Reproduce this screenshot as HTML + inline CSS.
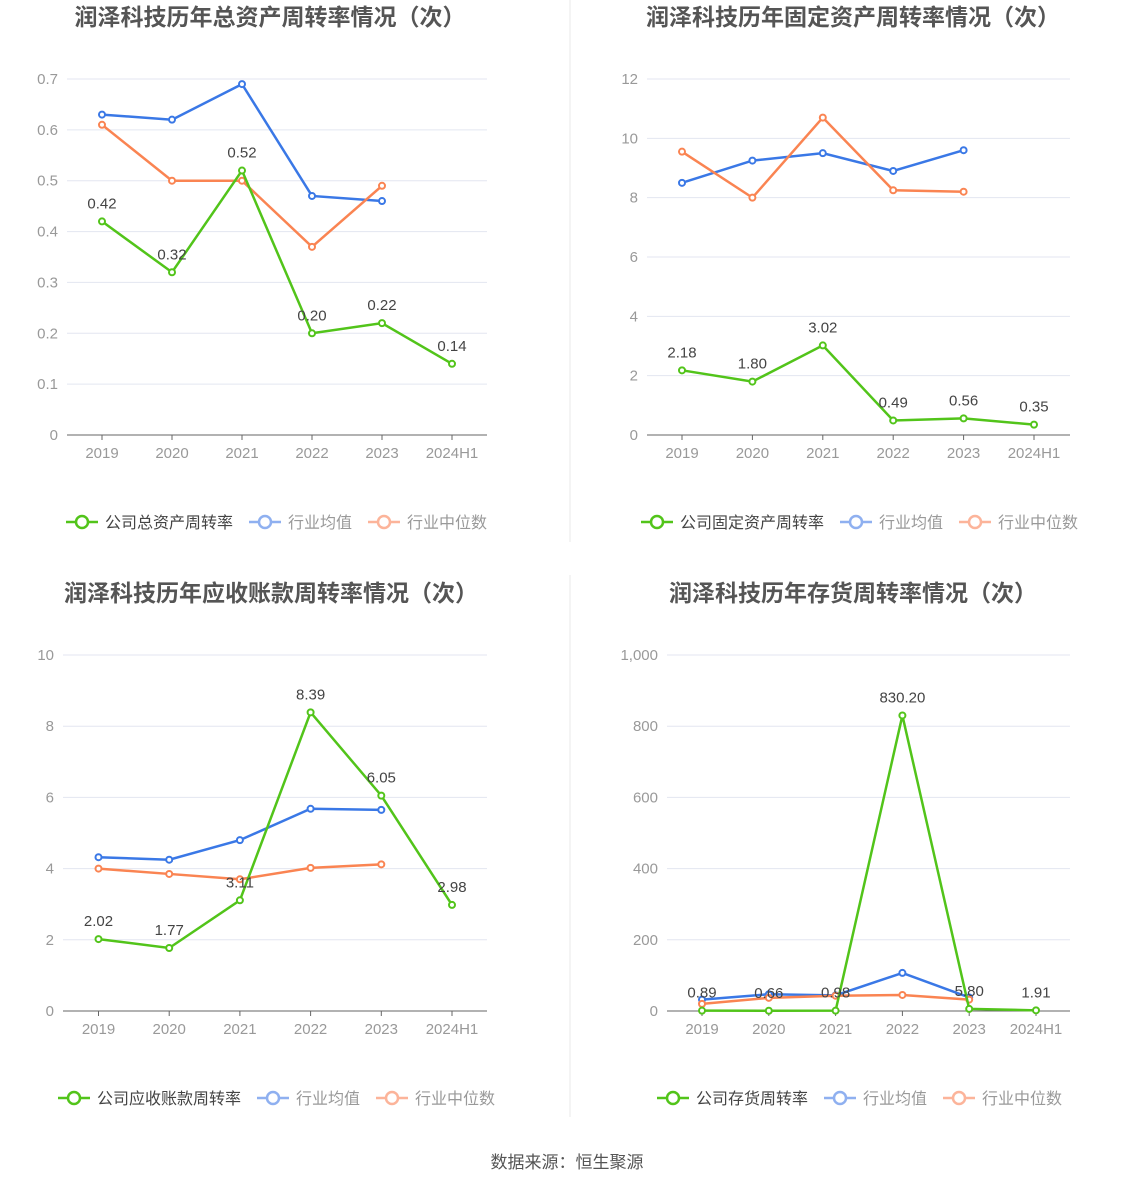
<!DOCTYPE html>
<html><head><meta charset="utf-8">
<style>
html,body{margin:0;padding:0;background:#fff;}
body{width:1134px;height:1188px;position:relative;overflow:hidden;font-family:"Liberation Sans","Noto Sans CJK SC",sans-serif;}
svg{position:absolute;left:0;top:0;}
</style></head>
<body>
<svg id="root" width="1134" height="1188" viewBox="0 0 1134 1188">
<line x1="570" y1="0" x2="570" y2="542" stroke="#e8e8e8"/>
<line x1="570" y1="575" x2="570" y2="1117" stroke="#e8e8e8"/>
<text x="567" y="1168" text-anchor="middle" font-size="17" fill="#555">数据来源：恒生聚源</text>
</svg>
<script>
const categories = ["2019","2020","2021","2022","2023","2024H1"];
const c1Company = [0.42,0.32,0.52,0.20,0.22,0.14];
const c1Avg = [0.63,0.62,0.69,0.47,0.46];
const c1Med = [0.61,0.50,0.50,0.37,0.49];
const c1Ticks = ["0","0.1","0.2","0.3","0.4","0.5","0.6","0.7"];
const c1Labels = ["0.42","0.32","0.52","0.20","0.22","0.14"];
const c2Company = [2.18,1.80,3.02,0.49,0.56,0.35];
const c2Avg = [8.5,9.25,9.5,8.9,9.6];
const c2Med = [9.55,8.0,10.7,8.25,8.2];
const c2Ticks = ["0","2","4","6","8","10","12"];
const c2Labels = ["2.18","1.80","3.02","0.49","0.56","0.35"];
const c3Company = [2.02,1.77,3.11,8.39,6.05,2.98];
const c3Avg = [4.32,4.25,4.8,5.68,5.65];
const c3Med = [4.0,3.85,3.7,4.02,4.12];
const c3Ticks = ["0","2","4","6","8","10"];
const c3Labels = ["2.02","1.77","3.11","8.39","6.05","2.98"];
const c4Company = [0.89,0.66,0.98,830.20,5.80,1.91];
const c4Avg = [32,47,44,107,38];
const c4Med = [20,37,43,45,32];
const c4Ticks = ["0","200","400","600","800","1,000"];
const c4Labels = ["0.89","0.66","0.98","830.20","5.80","1.91"];

const NS="http://www.w3.org/2000/svg";
const root=document.getElementById('root');
function mk(tag,attrs,parent){const e=document.createElementNS(NS,tag);for(const k in attrs)e.setAttribute(k,attrs[k]);(parent||root).appendChild(e);return e;}
const GREEN="#52c41a",BLUE="#3a78e6",ORANGE="#fa8452";

function chart(o){
  const g=mk('g',{});
  
  
  const t=mk('text',{x:o.tx,y:o.ty,'text-anchor':'middle','font-size':23,'font-weight':'bold',fill:'#555'},g);
  t.textContent=o.title;
  
  
  const n=o.ticks.length-1, max=o.max;
  const y=v=>o.y0-(v/max)*(o.y0-o.y1);
  const x=i=>o.cx0+i*o.dx;
  o.ticks.forEach((tk,i)=>{
    const v=max*i/n, yy=y(v);
    if(i>0){const l=mk('line',{x1:o.xl,x2:o.xr,y1:yy,y2:yy,stroke:'#e3e6f0'},g);
      
      }
    const tt=mk('text',{x:o.xl-9,y:yy+5,'text-anchor':'end','font-size':15,fill:'#999'},g);
    tt.textContent=tk;
    
    
  });
  const ax=mk('line',{x1:o.xl,x2:o.xr,y1:o.y0,y2:o.y0,stroke:'#666'},g);
  
  
  categories.forEach((c,i)=>{
    mk('line',{x1:x(i),x2:x(i),y1:o.y0,y2:o.y0+5,stroke:'#666'},g);
    const tt=mk('text',{x:x(i),y:o.y0+23,'text-anchor':'middle','font-size':15,fill:'#999'},g);
    tt.textContent=c;
    
    
  });
  function series(vals,color,name){
    const pts=vals.map((v,i)=>x(i)+','+y(v)).join(' ');
    const pl=mk('polyline',{points:pts,fill:'none',stroke:color,'stroke-width':2.5},g);
    
    
    vals.forEach((v,i)=>{
      const c=mk('circle',{cx:x(i),cy:y(v),r:3,fill:'#fff',stroke:color,'stroke-width':2},g);
      
      
    });
  }
  series(o.avg,BLUE,'industry-average');
  series(o.med,ORANGE,'industry-median');
  series(o.comp,GREEN,'company');
  o.comp.forEach((v,i)=>{
    const tt=mk('text',{x:x(i),y:y(v)-13,'text-anchor':'middle','font-size':15,fill:'#444'},g);
    tt.textContent=o.labels[i];
    
    
  });
  const items=[[o.legend,GREEN,'#444'],['行业均值','#8fb0f0','#999'],['行业中位数','#fcb49a','#999']];
  let lx=o.lgx;
  items.forEach((it,k)=>{
    const lg=mk('g',{},g);
    
    
    mk('line',{x1:lx,x2:lx+32,y1:o.lgy,y2:o.lgy,stroke:it[1],'stroke-width':2.5},lg);
    mk('circle',{cx:lx+16,cy:o.lgy,r:6,fill:'#fff',stroke:it[1],'stroke-width':2.5},lg);
    const tt=mk('text',{x:lx+39,y:o.lgy+6,'font-size':16,fill:it[2]},lg);
    tt.textContent=it[0];
    lx+=39+it[0].length*16+16;
  });
}
chart({name:'total-asset-turnover-chart',title:'润泽科技历年总资产周转率情况（次）',tx:270,ty:25,xl:67,xr:487,y0:435,y1:79,max:0.7,cx0:102,dx:70,ticks:c1Ticks,comp:c1Company,avg:c1Avg,med:c1Med,labels:c1Labels,legend:'公司总资产周转率',lgx:66,lgy:522});
chart({name:'fixed-asset-turnover-chart',title:'润泽科技历年固定资产周转率情况（次）',tx:853,ty:25,xl:647,xr:1070,y0:435,y1:79,max:12,cx0:682,dx:70.4,ticks:c2Ticks,comp:c2Company,avg:c2Avg,med:c2Med,labels:c2Labels,legend:'公司固定资产周转率',lgx:641,lgy:522});
chart({name:'receivables-turnover-chart',title:'润泽科技历年应收账款周转率情况（次）',tx:271,ty:601,xl:63,xr:487,y0:1011,y1:655,max:10,cx0:98.5,dx:70.7,ticks:c3Ticks,comp:c3Company,avg:c3Avg,med:c3Med,labels:c3Labels,legend:'公司应收账款周转率',lgx:58,lgy:1098});
chart({name:'inventory-turnover-chart',title:'润泽科技历年存货周转率情况（次）',tx:853,ty:601,xl:667,xr:1070,y0:1011,y1:655,max:1000,cx0:702,dx:66.8,ticks:c4Ticks,comp:c4Company,avg:c4Avg,med:c4Med,labels:c4Labels,legend:'公司存货周转率',lgx:657,lgy:1098});
</script>
</body></html>
